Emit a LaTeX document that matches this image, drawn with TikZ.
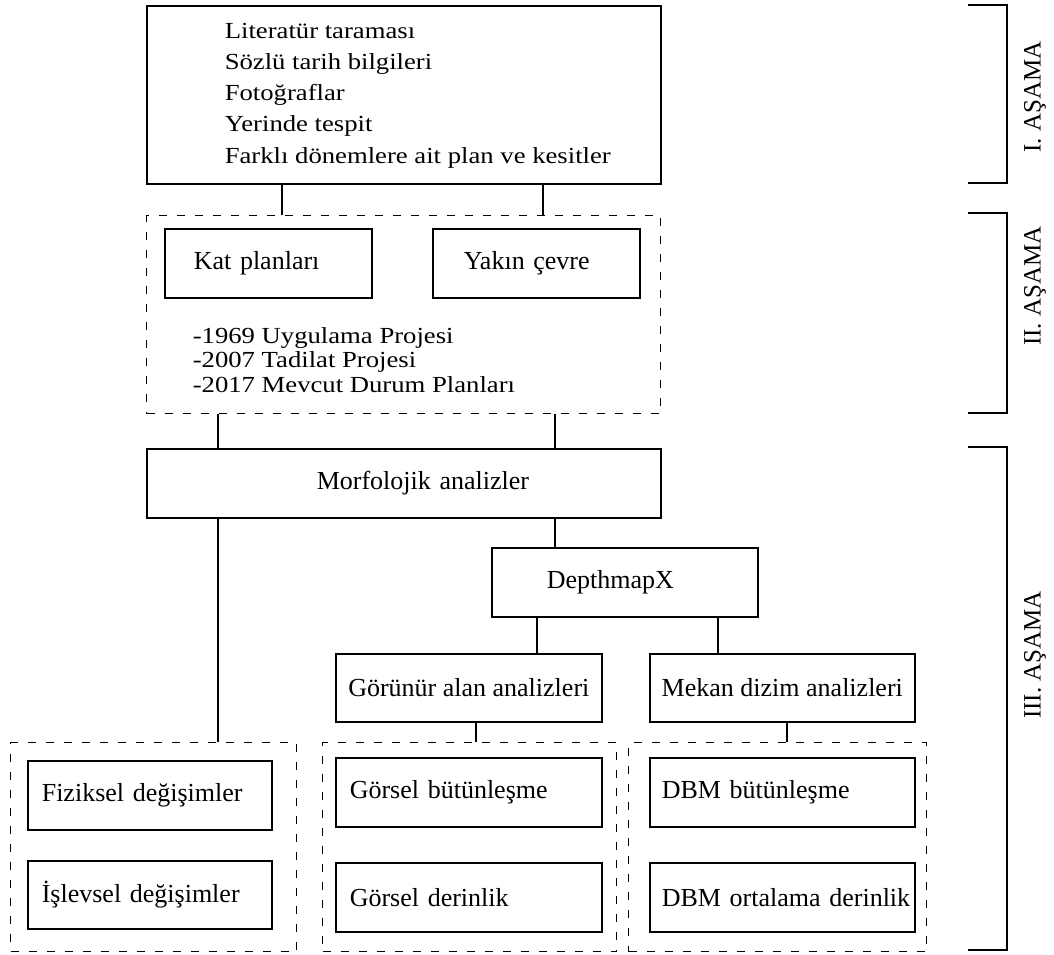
\documentclass[tikz,border=0pt]{standalone}
\usepackage{fontspec}
\setmainfont{Liberation Serif}
\newfontfamily\genis[FakeStretch=1.16]{Liberation Serif}
\usetikzlibrary{positioning}

\begin{document}
\begin{tikzpicture}[x=1pt, y=-1pt, line width=1.6pt,
    kutu/.style={draw, anchor=north west, inner sep=0pt, font=\fontsize{26}{30}\selectfont},
    solkutu/.style={kutu, align=left, text width=#1},
    grup/.style={draw, line width=1.4pt, dash pattern=on 8pt off 10pt, anchor=north west, inner sep=0pt},
    ustyazi/.style={anchor=base west, inner sep=0pt, font=\genis\fontsize{23}{28}\selectfont},
    asama/.style={rotate=90, inner sep=0pt, font=\fontsize{25}{30}\selectfont}]
    \useasboundingbox (0,0) rectangle (1054,954);

    % I. asama
    \node[kutu, minimum width=514pt, minimum height=178pt] (kaynak) at (146,5) {};
    \foreach \satir [count=\i] in {Literatür taraması, Sözlü tarih bilgileri, Fotoğraflar,
        Yerinde tespit, Farklı dönemlere ait plan ve kesitler}
      \node[ustyazi] (kay\i) at (224, {38+31.25*(\i-1)}) {\satir};

    % II. asama
    \node[grup, minimum width=514pt, minimum height=198pt] (asama2) at (146,215) {};
    \node[solkutu=149pt, inner xsep=29pt, minimum height=69pt] (kat) at (164,228) {Kat planları};
    \node[solkutu=145pt, inner xsep=31pt, minimum height=69pt] (yakin) at (432,228) {Yakın çevre};
    \foreach \satir [count=\i] in {-1969 Uygulama Projesi, -2007 Tadilat Projesi,
        -2017 Mevcut Durum Planları}
      \node[ustyazi] (proje\i) at (192, {343+24.5*(\i-1)}) {\satir};

    % III. asama
    \node[solkutu=174pt, inner xsep=170pt, minimum height=69pt] (morf) at (146,448) {\mbox{Morfolojik analizler}};
    \node[solkutu=156pt, inner xsep=55pt, minimum height=69pt] (depth) at (491,547) {DepthmapX};
    \node[kutu, minimum width=266pt, minimum height=68pt] (gorunur) at (335,653) {Görünür alan analizleri};
    \node[kutu, minimum width=265pt, minimum height=68pt] (mekan) at (649,653) {Mekan dizim analizleri};

    % Alt gruplar
    \node[grup, minimum width=286pt, minimum height=209pt] (grup1) at (10,742) {};
    \node[grup, minimum width=294pt, minimum height=209pt] (grup2) at (322,742) {};
    \node[grup, minimum width=298pt, minimum height=209pt] (grup3) at (628,742) {};
    \node[solkutu=216pt, inner xsep=14pt, minimum height=69pt] (fiz) at (27,760) {Fiziksel değişimler};
    \node[solkutu=216pt, inner xsep=14pt, minimum height=68pt] (isl) at (27,860) {İşlevsel değişimler};
    \node[solkutu=238pt, inner xsep=14pt, minimum height=69pt] (gbut) at (335,757) {Görsel bütünleşme};
    \node[solkutu=238pt, inner xsep=14pt, minimum height=69pt] (gder) at (335,862) {Görsel derinlik};
    \node[solkutu=241pt, inner xsep=12pt, minimum height=69pt] (dbut) at (649,757) {DBM bütünleşme};
    \node[solkutu=241pt, inner xsep=12pt, minimum height=69pt] (dder) at (649,862) {\mbox{DBM ortalama derinlik}};

    % Baglantilar
    \foreach \a/\b/\dx in {kaynak/asama2/136, kaynak/asama2/397, asama2/morf/72, asama2/morf/409,
        morf/depth/409, morf/grup1/72, depth/gorunur/46, depth/mekan/227,
        gorunur/grup2/141, mekan/grup3/138}
      \draw ([xshift=\dx pt]\a.south west) -- ([xshift=\dx pt]\a.south west |- \b.north);

    % Asama parantezleri
    \foreach \ust/\alt in {5/183, 213/413, 447/950}
      \draw (968,\ust) -- (1007,\ust) -- (1007,\alt) -- (968,\alt);
    \node[asama] (et1) at (1035,97) {I. AŞAMA};
    \node[asama] (et2) at (1035,286) {II. AŞAMA};
    \node[asama] (et3) at (1035,655) {III. AŞAMA};
  \end{tikzpicture}
\end{document}
